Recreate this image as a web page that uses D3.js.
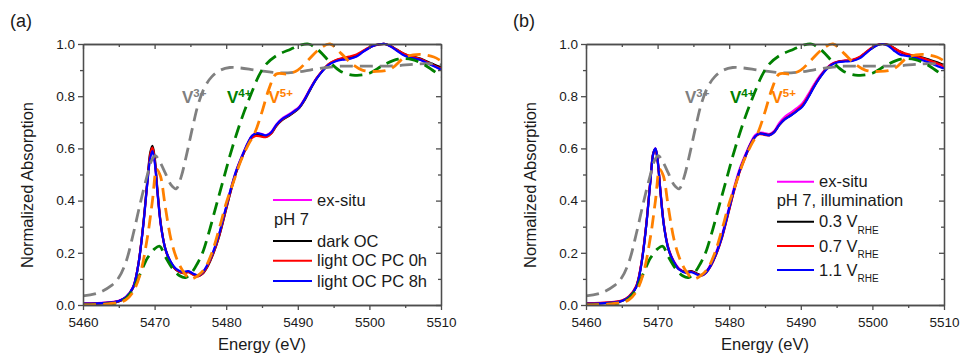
<!DOCTYPE html>
<html><head><meta charset="utf-8">
<script src="https://cdn.jsdelivr.net/npm/d3@7"></script>
<style>
body{margin:0;background:#fff;}
svg{display:block;font-family:"Liberation Sans",Arial,sans-serif;}
</style></head><body>
<svg id="chart" width="962" height="355"></svg>
<script>
// ---------- data ----------
const energy = [5460,5462,5464,5465,5466,5467,5467.7,5468.4,5469,5469.4,5469.7,5470,5470.4,5470.9,5471.5,5472.2,5473,5474,5474.7,5475.4,5476.1,5476.7,5477.4,5478.2,5479,5479.8,5480.6,5481.4,5482.2,5483,5483.6,5484.2,5484.9,5485.6,5486.3,5487,5487.8,5488.6,5489.4,5490.2,5491,5491.8,5492.6,5493.5,5494.3,5495.2,5496.2,5497.2,5498.2,5499,5499.8,5500.6,5501.4,5502.2,5503,5503.8,5504.6,5505.4,5506.2,5507,5507.8,5508.6,5509.4,5510];

// panel (a)
const exSituA   = [.006,.007,.011,.016,.031,.070,.152,.300,.472,.570,.598,.555,.432,.300,.216,.168,.137,.125,.129,.119,.113,.124,.154,.204,.270,.354,.440,.515,.571,.620,.648,.658,.656,.651,.664,.692,.714,.728,.743,.760,.793,.833,.868,.899,.921,.934,.941,.944,.953,.968,.982,.993,.999,1.000,.990,.976,.962,.952,.946,.941,.931,.921,.911,.903];
const darkOC    = [.004,.005,.009,.014,.028,.066,.150,.305,.480,.585,.610,.568,.440,.305,.215,.166,.134,.122,.127,.117,.111,.120,.148,.197,.262,.346,.432,.508,.565,.616,.645,.654,.650,.645,.658,.686,.708,.722,.737,.755,.787,.828,.866,.899,.922,.936,.943,.948,.957,.970,.984,.994,.999,1.000,.992,.979,.966,.956,.951,.945,.936,.926,.917,.910];
const lightPC0h = [.005,.006,.010,.015,.029,.067,.150,.302,.475,.578,.603,.560,.436,.302,.214,.166,.135,.122,.126,.116,.110,.121,.150,.199,.264,.348,.434,.510,.566,.614,.640,.648,.645,.644,.657,.687,.710,.724,.739,.757,.790,.831,.868,.900,.923,.937,.946,.952,.960,.972,.985,.994,.998,1.000,.991,.978,.966,.957,.950,.943,.934,.923,.913,.906];
const lightPC8h = [.005,.006,.010,.015,.030,.068,.150,.300,.470,.565,.590,.550,.430,.300,.215,.168,.138,.126,.130,.120,.113,.125,.155,.205,.270,.355,.440,.515,.570,.620,.648,.658,.655,.650,.662,.690,.712,.725,.740,.757,.790,.830,.866,.898,.920,.933,.940,.943,.952,.968,.982,.993,.999,1.000,.990,.975,.960,.950,.945,.940,.930,.920,.910,.902];

// panel (b)
const exSituB = [.006,.007,.011,.016,.031,.070,.153,.303,.478,.582,.600,.558,.438,.306,.220,.172,.140,.126,.129,.120,.114,.125,.155,.204,.270,.355,.442,.517,.573,.622,.650,.660,.659,.655,.668,.698,.722,.737,.753,.772,.805,.843,.876,.905,.924,.933,.936,.938,.948,.964,.981,.995,1.000,.995,.980,.965,.958,.954,.948,.941,.933,.925,.916,.909];
const rhe03   = [.005,.006,.010,.015,.030,.068,.152,.302,.478,.582,.598,.555,.435,.302,.216,.168,.137,.126,.130,.122,.115,.124,.150,.197,.262,.346,.432,.508,.566,.617,.645,.656,.655,.652,.664,.690,.713,.727,.743,.762,.795,.835,.870,.902,.922,.932,.935,.937,.948,.965,.982,.995,1.000,.997,.985,.972,.962,.957,.953,.948,.941,.934,.926,.920];
const rhe07   = [.007,.008,.012,.017,.033,.072,.155,.305,.478,.580,.595,.552,.433,.302,.216,.168,.137,.124,.128,.120,.113,.122,.148,.195,.258,.342,.428,.505,.563,.615,.643,.654,.652,.650,.662,.690,.713,.728,.745,.765,.797,.836,.870,.902,.922,.932,.936,.939,.950,.967,.984,.996,1.000,.996,.985,.972,.963,.958,.952,.946,.939,.931,.922,.915];
const rhe11   = [.005,.006,.010,.015,.030,.068,.150,.300,.475,.580,.600,.555,.432,.300,.215,.168,.136,.123,.126,.118,.112,.122,.150,.198,.262,.348,.434,.510,.567,.617,.645,.656,.654,.650,.662,.690,.712,.726,.742,.760,.793,.833,.868,.900,.920,.930,.933,.935,.945,.962,.980,.994,1.000,.993,.975,.960,.955,.952,.945,.938,.930,.921,.912,.906];

// reference spectra (dashed)
const v3Energy = [5460,5462,5464,5465,5466,5467,5468,5469,5469.6,5470.1,5470.7,5471.5,5472.3,5473,5473.7,5474.5,5475.3,5476.1,5477,5478,5479.2,5480.5,5482,5484,5486,5488,5490,5492,5494,5496,5498,5500,5502,5504,5506,5508,5510];
const v3Values = [0.035,0.045,0.075,0.105,0.165,0.270,0.390,0.500,0.555,0.572,0.550,0.505,0.460,0.445,0.490,0.580,0.680,0.770,0.835,0.875,0.900,0.910,0.908,0.900,0.893,0.889,0.893,0.902,0.910,0.915,0.915,0.915,0.915,0.917,0.922,0.925,0.920];
const v4Energy = [5460,5463,5465,5466,5467,5468,5469,5470,5470.7,5471.5,5472.5,5473.5,5474.3,5475.2,5476,5476.7,5477.5,5478.5,5479.5,5480.5,5481.5,5482.5,5483.5,5484.5,5485.5,5487,5489,5490.5,5491.5,5492.5,5493.5,5494.5,5496,5498,5500,5502,5504,5506,5508,5510];
const v4Values = [0.000,0.003,0.010,0.025,0.060,0.120,0.180,0.215,0.225,0.185,0.140,0.112,0.105,0.125,0.160,0.200,0.270,0.370,0.470,0.570,0.660,0.740,0.810,0.875,0.920,0.955,0.980,0.997,1.000,0.985,0.960,0.930,0.895,0.880,0.888,0.920,0.942,0.940,0.915,0.875];
const v5Energy = [5460,5463,5465,5466,5467,5468,5469,5469.7,5470.3,5470.8,5471.5,5472.3,5473.2,5474.2,5475,5476,5477,5478,5479,5480,5481,5482,5483,5484,5485,5486,5487,5488.5,5490,5491.5,5493,5494.5,5496,5497.5,5499,5501,5503,5505,5507,5509,5510];
const v5Values = [0.000,0.003,0.010,0.020,0.050,0.120,0.260,0.400,0.520,0.495,0.375,0.250,0.170,0.120,0.100,0.112,0.140,0.200,0.290,0.390,0.470,0.550,0.610,0.660,0.740,0.830,0.885,0.885,0.900,0.940,0.980,1.000,0.965,0.925,0.900,0.895,0.905,0.950,0.960,0.950,0.935];

const xTicks = [5460,5470,5480,5490,5500,5510];
const xMinorTicks = [5465,5475,5485,5495,5505];
const yTicks = [0,0.2,0.4,0.6,0.8,1.0];
const yMinorTicks = [0.1,0.3,0.5,0.7,0.9];

const refLabels = [
  {name:"V", sup:"3+", color:"#808080", e:5473.83, v:0.774},
  {name:"V", sup:"4+", color:"#008000", e:5480.1, v:0.774},
  {name:"V", sup:"5+", color:"#ff8000", e:5485.9, v:0.774}
];

// ---------- drawing ----------
const W = 358, H = 261, TOP = 44;
const svg = d3.select("#chart");
const x = d3.scaleLinear().domain([5460,5510]).range([0,W]);
const y = d3.scaleLinear().domain([0,1]).range([H,0]);
const line = d3.line().x(d=>x(d[0])).y(d=>y(d[1])).curve(d3.curveCatmullRom.alpha(0.5));
const zip = (es, vs) => es.map((e,i)=>[e, vs[i]]);

const refs = [
  {e:v3Energy, v:v3Values, color:"#808080"},
  {e:v4Energy, v:v4Values, color:"#008000"},
  {e:v5Energy, v:v5Values, color:"#ff8000"}
];

const panels = [
  {left:83, tag:"(a)", tagX:10,
   series:[{v:exSituA,color:"#ff00ff"},{v:darkOC,color:"#000000"},{v:lightPC0h,color:"#ff0000"},{v:lightPC8h,color:"#0000ff"}],
   legend:[
     {type:"line", color:"#ff00ff", text:"ex-situ", y:156},
     {type:"text", text:"pH 7", y:181, x:191},
     {type:"line", color:"#000000", text:"dark OC", y:197},
     {type:"line", color:"#ff0000", text:"light OC PC 0h", y:216.7},
     {type:"line", color:"#0000ff", text:"light OC PC 8h", y:237}
   ], lx1:190, lx2:229, tx:234},
  {left:586, tag:"(b)", tagX:513,
   series:[{v:exSituB,color:"#ff00ff"},{v:rhe03,color:"#000000"},{v:rhe07,color:"#ff0000"},{v:rhe11,color:"#0000ff"}],
   legend:[
     {type:"line", color:"#ff00ff", text:"ex-situ", y:137.7},
     {type:"text", text:"pH 7, illumination", y:161.7, x:190.7},
     {type:"line", color:"#000000", text:"0.3 V", sub:"RHE", y:177.7},
     {type:"line", color:"#ff0000", text:"0.7 V", sub:"RHE", y:202},
     {type:"line", color:"#0000ff", text:"1.1 V", sub:"RHE", y:226}
   ], lx1:191, lx2:228, tx:233}
];

const axisColor = "#4d4d4d", textColor = "#1a1a1a";

panels.forEach((p, pi) => {
  const g = svg.append("g").attr("transform", `translate(${p.left},${TOP})`);
  const clipId = "clip" + pi;
  g.append("clipPath").attr("id", clipId).append("rect")
    .attr("x", 0).attr("y", -2).attr("width", W).attr("height", H + 2);

  const plot = g.append("g").attr("clip-path", `url(#${clipId})`);
  p.series.forEach(s => {
    plot.append("path").datum(zip(energy, s.v))
      .attr("d", line).attr("fill","none").attr("stroke", s.color)
      .attr("stroke-width", 2.2).attr("stroke-linejoin","round");
  });
  refs.forEach(r => {
    plot.append("path").datum(zip(r.e, r.v))
      .attr("d", line).attr("fill","none").attr("stroke", r.color)
      .attr("stroke-width", 2.8).attr("stroke-dasharray","13,7");
  });

  // axes
  const styleAxis = sel => {
    sel.selectAll("path,line").attr("stroke", axisColor).attr("stroke-width", 1.3);
    sel.selectAll("text").attr("fill", textColor).style("font-family",'"Liberation Sans",Arial,sans-serif').attr("font-size", 13.5);
  };
  g.append("g").attr("transform",`translate(0,${H})`)
    .call(d3.axisBottom(x).tickValues(xTicks).tickSize(5).tickSizeOuter(0).tickPadding(7).tickFormat(d3.format("d"))).call(styleAxis);
  g.append("g").attr("transform",`translate(0,${H})`)
    .call(d3.axisBottom(x).tickValues(xMinorTicks).tickSize(3).tickSizeOuter(0).tickFormat("")).call(styleAxis);
  g.append("g")
    .call(d3.axisLeft(y).tickValues(yTicks).tickSize(5).tickSizeOuter(0).tickPadding(3).tickFormat(d3.format(".1f"))).call(styleAxis);
  g.append("g")
    .call(d3.axisLeft(y).tickValues(yMinorTicks).tickSize(3).tickSizeOuter(0).tickFormat("")).call(styleAxis);
  g.append("g")
    .call(d3.axisTop(x).tickValues(xTicks).tickSize(-5).tickSizeOuter(0).tickFormat("")).call(styleAxis);
  g.append("g")
    .call(d3.axisTop(x).tickValues(xMinorTicks).tickSize(-3).tickSizeOuter(0).tickFormat("")).call(styleAxis);
  g.append("g").attr("transform",`translate(${W},0)`)
    .call(d3.axisRight(y).tickValues(yTicks).tickSize(-5).tickSizeOuter(0).tickFormat("")).call(styleAxis);
  g.append("g").attr("transform",`translate(${W},0)`)
    .call(d3.axisRight(y).tickValues(yMinorTicks).tickSize(-3).tickSizeOuter(0).tickFormat("")).call(styleAxis);

  // axis titles
  g.append("text").attr("x", W/2).attr("y", 306).attr("text-anchor","middle")
    .attr("font-size", 16.5).attr("fill", textColor).text("Energy (eV)");
  g.append("text").attr("transform", `translate(${-56},${141}) rotate(-90)`)
    .attr("text-anchor","middle").attr("dy","0.35em")
    .attr("font-size", 16.5).attr("fill", textColor).text("Normalized Absorption");

  // reference labels
  refLabels.forEach(l => {
    const t = g.append("text").attr("x", x(l.e)).attr("y", y(l.v))
      .attr("fill", l.color).attr("font-weight","bold").attr("font-size", 17);
    t.append("tspan").text(l.name);
    t.append("tspan").attr("dy", -6).attr("font-size", 11.5).text(l.sup);
  });

  // legend
  p.legend.forEach(it => {
    if (it.type === "line") {
      g.append("line").attr("x1", p.lx1).attr("x2", p.lx2).attr("y1", it.y).attr("y2", it.y)
        .attr("stroke", it.color).attr("stroke-width", 2);
      const t = g.append("text").attr("x", p.tx).attr("y", it.y + 5.5)
        .attr("font-size", 16.5).attr("fill", textColor);
      t.append("tspan").text(it.text);
      if (it.sub) t.append("tspan").attr("dy", 6.5).attr("font-size", 10).text(it.sub);
    } else {
      g.append("text").attr("x", it.x).attr("y", it.y)
        .attr("font-size", 16.5).attr("fill", textColor).text(it.text);
    }
  });

  svg.append("text").attr("x", p.tagX).attr("y", 27).attr("font-size", 18)
    .attr("fill", textColor).text(p.tag);
});
</script></body></html>
